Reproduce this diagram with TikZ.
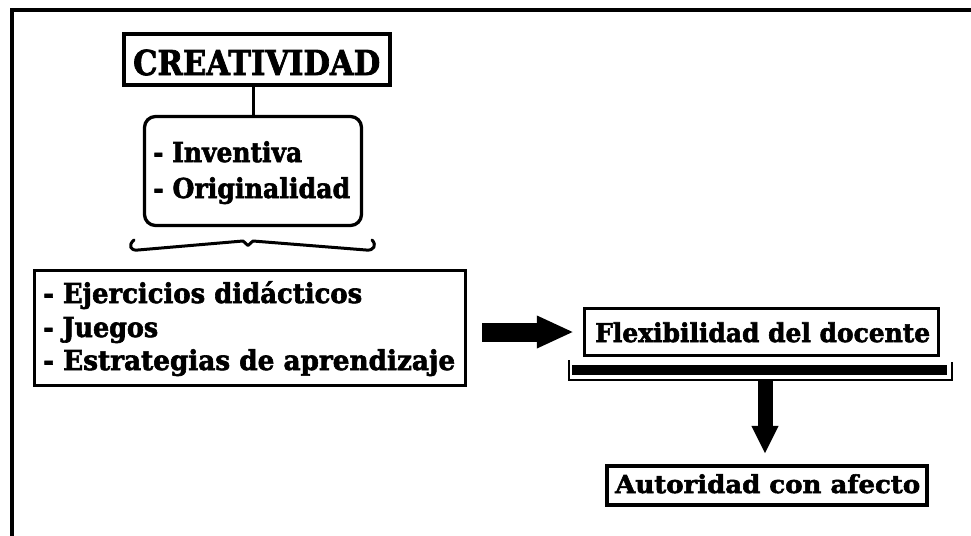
\documentclass[tikz,border=0pt]{standalone}
\usepackage{fontspec}
\setmainfont{DejaVu Serif}[BoldFeatures={FakeBold=2.2}]
\usepackage{graphicx}
\usetikzlibrary{arrows.meta}
\newsavebox\fitbox
\newcommand\fitw[2]{\sbox\fitbox{#2}\pgfmathsetmacro\fitsx{#1/\the\wd\fitbox}\scalebox{\fitsx}[1]{\usebox\fitbox}}
\begin{document}
\begin{tikzpicture}[x=1pt,y=-1pt,
  box/.style={draw=black, inner sep=0pt, line width=3.3pt},
  txt/.style={inner sep=0pt, anchor=base west},
  conn/.style={line width=3pt},
  bigarrow/.style={line width=19pt, -{Triangle[length=37pt,width=30pt]}},
  downarrow/.style={line width=15pt, -{Triangle[length=28pt,width=25pt]}},
  fA/.style={font=\fontsize{34.3}{40}\selectfont\bfseries},
  fB/.style={font=\fontsize{27.4}{32}\selectfont\bfseries},
  fC/.style={font=\fontsize{26}{30}\selectfont\bfseries},
  fD/.style={font=\fontsize{24.7}{29}\selectfont\bfseries}]
\useasboundingbox (0,0) rectangle (971,535);
\fill[white] (0,0) rectangle (971,535);
% frame
\draw[line width=4pt] (12,540) -- (12,10) -- (975,10);
% boxes
\node[box, line width=3.8pt, minimum width=266.5pt, minimum height=51.5pt] (crea) at (257,59.5) {};
\node[box, rounded corners=11pt, minimum width=217pt, minimum height=109pt] (ideas) at (253,171) {};
\node[box, minimum width=431pt, minimum height=115pt] (ejer) at (250,328) {};
\node[box, minimum width=354pt, minimum height=47pt] (flex) at (761.5,332) {};
\node[box, line width=3.8pt, minimum width=320pt, minimum height=39.5pt] (auto) at (767,485.5) {};
\node[fill=black, inner sep=0pt, minimum width=375pt, minimum height=10pt] (bar) at (759.5,370) {};
% texts
\node[txt, fA] (tcrea) at (133,75) {\fitw{247}{CREATIVIDAD}};
\node[txt, fB] (ti1) at (153,162) {\fitw{149}{- Inventiva}};
\node[txt, fB] (ti2) at (153,198) {\fitw{197}{- Originalidad}};
\node[txt, fB] (te1) at (43,303) {\fitw{319}{- Ejercicios didácticos}};
\node[txt, fB] (te2) at (43,337) {\fitw{115}{- Juegos}};
\node[txt, fB] (te3) at (43,370) {\fitw{412}{- Estrategias de aprendizaje}};
\node[txt, fC] (tflex) at (595,342) {\fitw{335}{Flexibilidad del docente}};
\node[txt, fD] (tauto) at (615,493) {\fitw{305}{Autoridad con afecto}};
% connector creatividad -> ideas
\draw[conn] (crea.south -| ideas.north) -- (ideas.north);
% brace
\draw[line width=3pt, line cap=round, line join=round]
  (134,240) .. controls (128,245) and (130,251) .. (138,250)
  -- (243,241) -- (248,245.5) -- (253,241) -- (366,250)
  .. controls (374,251) and (377,245) .. (372,240);
% bracket under flexibilidad
\draw[line width=2.5pt] (569,360) -- (569,380) -- (952,380) -- (952,362);
% big arrow
\coordinate (e1) at ([xshift=15pt]ejer.east);
\coordinate (f1) at ([xshift=-9pt]flex.west);
\draw[bigarrow] (e1 |- f1) -- (f1);
% down arrow
\coordinate (va) at ([xshift=5.5pt,yshift=-4pt]bar.south);
\coordinate (an) at ([yshift=10pt]auto.north);
\draw[downarrow] (va) -- (va |- an);
\end{tikzpicture}
\end{document}
